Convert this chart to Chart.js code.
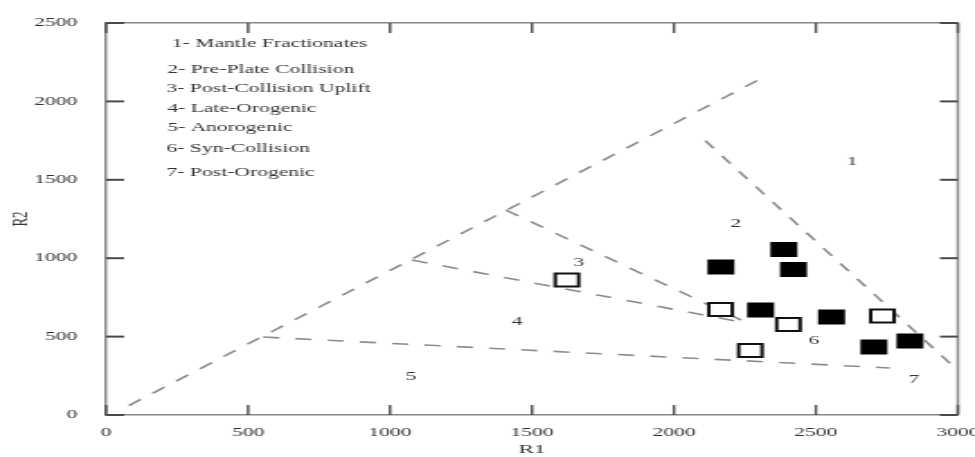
<!DOCTYPE html>
<html>
<head>
<meta charset="utf-8">
<script src="https://cdn.jsdelivr.net/npm/chart.js@4.4.1/dist/chart.umd.min.js"></script>
<style>
  html, body { margin: 0; padding: 0; background: #fff; overflow: hidden; }
  /* the reference is a horizontally stretched figure, so stretch the canvas the same way */
  #wrap { width: 542px; height: 457px; transform: scaleX(1.7989); transform-origin: 0 0; }
</style>
</head>
<body>
<div id="wrap"><canvas id="chart" width="542" height="457"></canvas></div>
<script>
// samples (R1, R2)
var filledR1 = [2165, 2387, 2421, 2305, 2555, 2704, 2831];
var filledR2 = [944, 1055, 928, 670, 625, 434, 472];
var openR1 = [1623, 2164, 2403, 2269, 2734];
var openR2 = [861, 673, 577, 411, 631];

// dashed field boundaries, one [start, end] pair per line
var boundaryR1 = [[80, 2300], [2110, 2990], [1408, 2260], [1077, 2260], [553, 2760]];
var boundaryR2 = [[60, 2140], [1750, 300], [1307, 585], [988, 585], [497, 300]];

// axis ticks
var r1Ticks = [0, 500, 1000, 1500, 2000, 2500, 3000];
var r2Ticks = [0, 500, 1000, 1500, 2000, 2500];

// field numbers placed in data units
var fieldNames = ["1", "2", "3", "4", "5", "6", "7"];
var fieldR1 = [2627, 2218, 1665, 1447, 1074, 2493, 2845];
var fieldR2 = [1614, 1218, 969, 593, 242, 472, 223];

// key text in the upper left, placed in data units
var keyLines = [
    "1- Mantle Fractionates",
    "2- Pre-Plate Collision",
    "3- Post-Collision Uplift",
    "4- Late-Orogenic",
    "5- Anorogenic",
    "6- Syn-Collision",
    "7- Post-Orogenic"
];
var keyR1 = [232, 215, 213, 215, 215, 213, 213];
var keyR2 = [2366, 2200, 2079, 1952, 1830, 1696, 1543];

var serif = "'Liberation Serif', 'Times New Roman', serif";
var textColor = "#333";
var frameColor = "#888";

function toPoints(xs, ys) {
    return xs.map(function (v, i) { return { x: v, y: ys[i] }; });
}

var datasets = [];
datasets.push({
    label: "filled",
    data: toPoints(filledR1, filledR2),
    pointStyle: "rect",
    pointRadius: 10.6,
    pointBackgroundColor: "#000",
    pointBorderWidth: 0
});
datasets.push({
    label: "open",
    data: toPoints(openR1, openR2),
    pointStyle: "rect",
    pointRadius: 9.2,
    pointBackgroundColor: "#fff",
    pointBorderColor: "#111",
    pointBorderWidth: 2
});
for (var i = 0; i < boundaryR1.length; i++) {
    datasets.push({
        label: "boundary " + (i + 1),
        data: toPoints(boundaryR1[i], boundaryR2[i]),
        showLine: true,
        pointRadius: 0,
        borderColor: "#8c8c8c",
        borderWidth: 1.6,
        borderDash: [9, 9]
    });
}

// key text, field numbers, inward tick marks and the right-hand frame line
var extras = {
    id: "extras",
    afterDatasetsDraw: function (chart) {
        var ctx = chart.ctx;
        var x = chart.scales.x, y = chart.scales.y;
        ctx.save();
        ctx.fillStyle = textColor;
        ctx.font = "12px " + serif;
        ctx.textBaseline = "middle";
        ctx.textAlign = "left";
        for (var i = 0; i < keyLines.length; i++) {
            ctx.fillText(keyLines[i], x.getPixelForValue(keyR1[i]), y.getPixelForValue(keyR2[i]));
        }
        ctx.textAlign = "center";
        for (var j = 0; j < fieldNames.length; j++) {
            ctx.fillText(fieldNames[j], x.getPixelForValue(fieldR1[j]), y.getPixelForValue(fieldR2[j]));
        }

        var left = x.getPixelForValue(0), right = x.getPixelForValue(3000);
        var bottom = y.getPixelForValue(0), top = y.getPixelForValue(2500);
        var len = 10;
        ctx.fillStyle = frameColor;
        ctx.fillRect(right - 0.75, top, 1.5, bottom - top);
        ctx.fillStyle = "#4a4a4a";
        r1Ticks.forEach(function (v) {
            var px = x.getPixelForValue(v);
            ctx.fillRect(px - 0.7, bottom - len, 1.4, len);
            ctx.fillRect(px - 0.7, top, 1.4, len);
        });
        r2Ticks.forEach(function (v) {
            var py = y.getPixelForValue(v);
            ctx.fillRect(left, py - 1, len, 2);
            ctx.fillRect(right - len, py - 1, len, 2);
        });
        ctx.restore();
    }
};

var axisBorder = { display: true, color: frameColor, width: 1.5 };

function plainTick(v) { return String(v); }

new Chart(document.getElementById("chart"), {
    type: "scatter",
    data: { datasets: datasets },
    options: {
        responsive: false,
        animation: false,
        devicePixelRatio: 1,
        layout: { autoPadding: false, padding: { top: 23, right: 9.5, left: 0, bottom: 0 } },
        plugins: { legend: { display: false }, tooltip: { enabled: false } },
        scales: {
            x: {
                type: "linear", position: "bottom", min: 0, max: 3000,
                afterBuildTicks: function (s) { s.ticks = r1Ticks.map(function (v) { return { value: v }; }); },
                afterFit: function (s) { s.height = 42; s.paddingLeft = 0; s.paddingRight = 0; },
                grid: { display: false },
                border: axisBorder,
                ticks: { padding: 3, color: textColor, font: { family: serif, size: 12 }, maxRotation: 0, callback: plainTick },
                title: { display: true, text: "R1", color: textColor, padding: { top: 0, bottom: 0 }, font: { family: serif, size: 13 } }
            },
            y: {
                type: "linear", position: "left", min: 0, max: 2500,
                afterBuildTicks: function (s) { s.ticks = r2Ticks.map(function (v) { return { value: v }; }); },
                afterFit: function (s) { s.width = 59; s.paddingTop = 0; s.paddingBottom = 0; },
                grid: { display: false },
                border: axisBorder,
                ticks: { padding: 8, color: textColor, font: { family: serif, size: 12 }, callback: plainTick },
                title: { display: true, text: "R2", color: textColor, padding: { top: 4, bottom: 0 }, font: { family: serif, size: 13 } }
            },
            xTop: {
                type: "linear", position: "top", min: 0, max: 3000,
                afterFit: function (s) { s.height = 0; },
                grid: { display: false },
                border: axisBorder,
                ticks: { display: false }
            }
        }
    },
    plugins: [extras]
});
</script>
</body>
</html>
